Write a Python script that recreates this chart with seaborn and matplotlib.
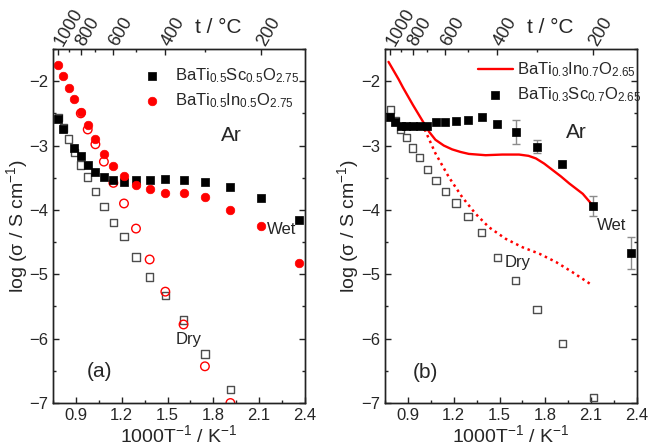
import numpy as np
import pandas as pd
import matplotlib
matplotlib.use("Agg")
import matplotlib.pyplot as plt
import seaborn as sns
from matplotlib.ticker import MultipleLocator, FixedLocator

# ---------------- panel (a): BaTi0.5M0.5O2.75 ----------------
# measurement temperatures (°C) and log conductivity (S/cm)
t_a_wet_sc = [1000, 950, 850, 800, 750, 700, 650, 600, 550, 500, 450, 400, 350, 300, 250, 200, 150]
log_a_wet_sc = [-2.58, -2.74, -3.04, -3.17, -3.30, -3.41, -3.49, -3.54, -3.57, -3.54, -3.53, -3.52, -3.53,
                -3.57, -3.65, -3.81, -4.15]

t_a_wet_in = [1000, 950, 900, 850, 800, 750, 700, 650, 600, 550, 500, 450, 400, 350, 300, 250, 200, 150]
log_a_wet_in = [-1.75, -1.92, -2.10, -2.28, -2.48, -2.68, -2.90, -3.13, -3.32, -3.48, -3.62, -3.68, -3.74,
                -3.74, -3.80, -4.00, -4.25, -4.83]

t_a_dry_sc = [1000, 950, 900, 850, 800, 750, 700, 650, 600, 550, 500, 450, 400, 350, 300, 250]
log_a_dry_sc = [-2.56, -2.73, -2.90, -3.11, -3.30, -3.49, -3.71, -3.95, -4.20, -4.41, -4.73, -5.04, -5.33,
                 -5.71, -6.24, -6.79]

t_a_dry_in = [800, 750, 700, 650, 600, 550, 500, 450, 400, 350, 300, 250]
log_a_dry_in = [-2.50, -2.75, -2.98, -3.25, -3.58, -3.90, -4.29, -4.77, -5.27, -5.78, -6.43, -7.00]

# ---------------- panel (b): BaTi0.3M0.7O2.65 ----------------
t_b_wet_sc = [1000, 950, 900, 850, 800, 750, 700, 650, 600, 550, 500, 450, 400, 350, 300, 250, 200, 150]
log_b_wet_sc = [-2.56, -2.63, -2.69, -2.70, -2.70, -2.70, -2.69, -2.64, -2.63, -2.62, -2.61, -2.56, -2.66,
                -2.79, -3.02, -3.29, -3.94, -4.67]
err_b_wet_sc = [0, 0, 0, 0, 0, 0, 0, 0, 0, 0, 0, 0, 0, 0.18, 0.10, 0, 0.16, 0.25]

t_b_dry_sc = [1000, 950, 900, 850, 800, 750, 700, 650, 600, 550, 500, 450, 400, 350, 300, 250, 200]
log_b_dry_sc = [-2.44, -2.62, -2.75, -2.88, -3.04, -3.19, -3.37, -3.54, -3.71, -3.89, -4.10, -4.35, -4.74,
                -5.10, -5.55, -6.08, -6.91]

# BaTi0.3In0.7O2.65 curves, given directly on the 1000/T axis
inv_b_wet_in = [0.773, 0.839, 0.868, 0.933, 0.999, 1.040, 1.080, 1.135, 1.190, 1.245, 1.299, 1.354, 1.409,
                1.518, 1.628, 1.690, 1.738, 1.792, 1.847, 1.902, 1.957, 2.045, 2.110]
log_b_wet_in = [-1.70, -1.97, -2.10, -2.37, -2.63, -2.79, -2.91, -3.00, -3.06, -3.10, -3.13, -3.14, -3.15,
                -3.14, -3.14, -3.16, -3.20, -3.28, -3.38, -3.48, -3.59, -3.75, -3.93]
inv_b_dry_in = [0.993, 1.080, 1.168, 1.255, 1.343, 1.431, 1.541, 1.650, 1.760, 1.870, 1.979, 2.100]
log_b_dry_in = [-2.66, -3.12, -3.49, -3.80, -4.06, -4.27, -4.45, -4.58, -4.68, -4.81, -4.97, -5.16]

# top temperature axis
t_major = [1000, 800, 600, 400, 200]
t_minor = [900, 700, 500, 300]

lbl_a_sc = r"BaTi$_{0.5}$Sc$_{0.5}$O$_{2.75}$"
lbl_a_in = r"BaTi$_{0.5}$In$_{0.5}$O$_{2.75}$"
lbl_b_in = r"BaTi$_{0.3}$In$_{0.7}$O$_{2.65}$"
lbl_b_sc = r"BaTi$_{0.3}$Sc$_{0.7}$O$_{2.65}$"


def inv(t):
    return 1000.0 / (np.asarray(t, dtype=float) + 273.15)


def frame(x, y):
    return pd.DataFrame({"x": np.asarray(x, dtype=float), "y": np.asarray(y, dtype=float)})


sns.set_style("ticks")
plt.rcParams["font.family"] = ["Liberation Sans", "DejaVu Sans"]
plt.rcParams["mathtext.default"] = "regular"
plt.rcParams["axes.edgecolor"] = "#222222"
plt.rcParams["axes.linewidth"] = 1.0

RED = "#ff0000"
OPEN_GRAY = "#4d4d4d"
SQ = 28
CI = 38

fig = plt.figure(figsize=(6.5, 4.45), dpi=100)
ax_a = fig.add_axes([53 / 650, 42 / 445, 252 / 650, 354 / 445])
ax_b = fig.add_axes([385 / 650, 42 / 445, 252 / 650, 354 / 445])

# ---- panel (a) ----
sns.scatterplot(data=frame(inv(t_a_dry_sc), log_a_dry_sc), x="x", y="y", ax=ax_a, marker="s", s=SQ,
                facecolors="none", edgecolor=OPEN_GRAY, linewidth=1.0, zorder=2)
sns.scatterplot(data=frame(inv(t_a_wet_sc), log_a_wet_sc), x="x", y="y", ax=ax_a, marker="s", s=SQ,
                color="black", edgecolor="black", linewidth=0.5, zorder=3, label=lbl_a_sc)
sns.scatterplot(data=frame(inv(t_a_dry_in), log_a_dry_in), x="x", y="y", ax=ax_a, marker="o", s=CI,
                facecolors="none", edgecolor=RED, linewidth=1.0, zorder=2)
sns.scatterplot(data=frame(inv(t_a_wet_in), log_a_wet_in), x="x", y="y", ax=ax_a, marker="o", s=CI,
                color=RED, edgecolor=RED, linewidth=0.5, zorder=4, label=lbl_a_in)

h, l = ax_a.get_legend_handles_labels()
ax_a.legend(h, l, loc="upper left", bbox_to_anchor=(0.36, 0.951), frameon=False, fontsize=12,
            handlelength=1.0, handletextpad=0.85, borderpad=0, borderaxespad=0, labelspacing=0.35)

ax_a.text(1.92, -2.84, "Ar", fontsize=15, ha="center", va="center")
ax_a.text(2.25, -4.30, "Wet", fontsize=12, ha="center", va="center")
ax_a.text(1.64, -6.02, "Dry", fontsize=12, ha="center", va="center")
ax_a.text(1.056, -6.51, "(a)", fontsize=15, ha="center", va="center")

# ---- panel (b) ----
sns.scatterplot(data=frame(inv(t_b_dry_sc), log_b_dry_sc), x="x", y="y", ax=ax_b, marker="s", s=SQ,
                facecolors="none", edgecolor=OPEN_GRAY, linewidth=1.0, zorder=2)
sns.lineplot(data=frame(inv_b_wet_in, log_b_wet_in), x="x", y="y", ax=ax_b, color=RED,
             linewidth=1.7, sort=False, zorder=3, label=lbl_b_in)
sns.lineplot(data=frame(inv_b_dry_in, log_b_dry_in), x="x", y="y", ax=ax_b, color=RED,
             linewidth=1.8, linestyle=(0, (1, 1.5)), sort=False, zorder=3)

err = np.asarray(err_b_wet_sc)
mask = err > 0
ax_b.errorbar(inv(t_b_wet_sc)[mask], np.asarray(log_b_wet_sc)[mask], yerr=err[mask], fmt="none",
              ecolor="#8c8c8c", elinewidth=1.0, capsize=3, capthick=1.0, zorder=3)
sns.scatterplot(data=frame(inv(t_b_wet_sc), log_b_wet_sc), x="x", y="y", ax=ax_b, marker="s", s=SQ,
                color="black", edgecolor="black", linewidth=0.5, zorder=4, label=lbl_b_sc)

h, l = ax_b.get_legend_handles_labels()
ax_b.legend(h, l, loc="upper left", bbox_to_anchor=(0.368, 0.967), frameon=False, fontsize=12,
            handlelength=2.1, handletextpad=0.25, borderpad=0, borderaxespad=0, labelspacing=0.35)

ax_b.text(2.005, -2.79, "Ar", fontsize=15, ha="center", va="center")
ax_b.text(2.235, -4.24, "Wet", fontsize=12, ha="center", va="center")
ax_b.text(1.62, -4.81, "Dry", fontsize=12, ha="center", va="center")
ax_b.text(1.016, -6.53, "(b)", fontsize=15, ha="center", va="center")

# ---- shared axis styling ----
for ax, ylab_x in ((ax_a, -0.09), (ax_b, -0.095)):
    ax.set_xlim(0.75, 2.4)
    ax.set_ylim(-7, -1.5)
    ax.yaxis.set_major_locator(MultipleLocator(1))
    ax.yaxis.set_minor_locator(MultipleLocator(0.5))
    ax.set_xticks(np.arange(0.9, 2.41, 0.3))
    ax.set_xticklabels([f"{v:.1f}" for v in np.arange(0.9, 2.41, 0.3)])
    ax.xaxis.set_minor_locator(MultipleLocator(0.15))
    ax.tick_params(which="both", direction="in", top=False, right=True, labelsize=12, width=1.0,
                   color="#222222")
    ax.tick_params(which="major", length=4)
    ax.tick_params(which="minor", length=2.5)
    ax.set_xlabel(r"1000T$^{-1}$ / K$^{-1}$", fontsize=14, labelpad=1)
    ax.set_ylabel(r"log ($\sigma$ / S cm$^{-1}$)", fontsize=14)
    ax.yaxis.set_label_coords(ylab_x, 0.5)
    for sp in ax.spines.values():
        sp.set_visible(True)
        sp.set_color("#222222")

    top = ax.twiny()
    top.set_xlim(ax.get_xlim())
    top.xaxis.set_major_locator(FixedLocator(inv(t_major)))
    top.xaxis.set_minor_locator(FixedLocator(inv(t_minor)))
    top.set_xticklabels([str(t) for t in t_major], rotation=60, ha="left", va="center",
                        rotation_mode="anchor", fontsize=13)
    top.tick_params(which="both", direction="in", color="#222222", width=1.0, pad=3)
    top.tick_params(which="major", length=4)
    top.tick_params(which="minor", length=2.5)
    for sp in top.spines.values():
        sp.set_color("#222222")
    ax.text(0.655, 1.06, "t / \u00b0C", transform=ax.transAxes, fontsize=15, ha="center", va="center")

fig.savefig("out.png", dpi=100)
